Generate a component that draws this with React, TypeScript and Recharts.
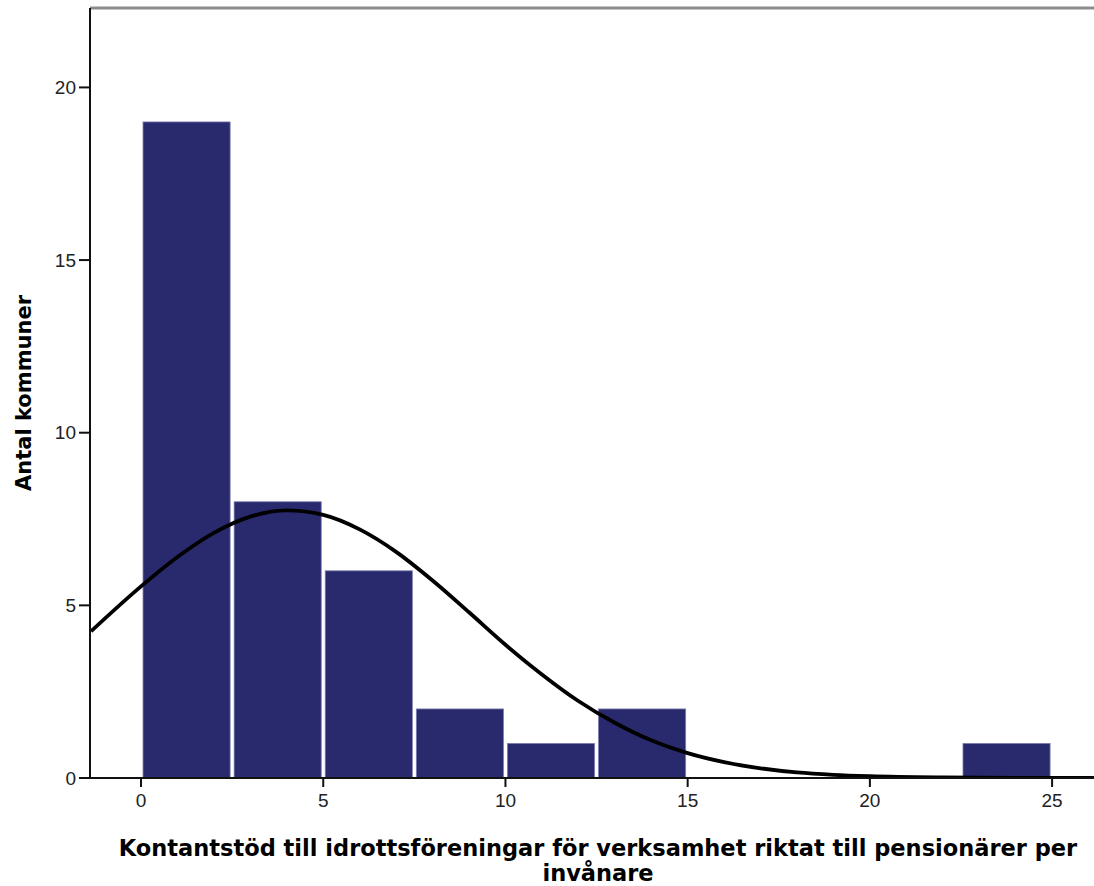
import React from "react";
import {
  ComposedChart,
  Line,
  XAxis,
  YAxis,
  ReferenceArea,
  ReferenceLine,
  Label
} from "recharts";

// histogram bins (lower edge, upper edge) and counts
const binStarts = [0, 2.5, 5, 7.5, 10, 12.5, 22.5];
const binEnds = [2.5, 5, 7.5, 10, 12.5, 15, 25];
const binCounts = [19, 8, 6, 2, 1, 2, 1];

// normal curve
const curveX = [-1.37, 0, 1, 2, 3, 4, 5, 6, 7, 8, 9, 10, 11, 12, 13, 14, 15, 16, 17, 18, 19, 20, 22, 24, 26.2];
const curveY = [4.25, 5.55, 6.4, 7.1, 7.57, 7.75, 7.62, 7.2, 6.55, 5.72, 4.8, 3.86, 3.0, 2.23, 1.6, 1.09, 0.72, 0.46, 0.28, 0.16, 0.09, 0.05, 0.015, 0.004, 0.0];

const xTicks = [0, 5, 10, 15, 20, 25];
const yTicks = [0, 5, 10, 15, 20];

const X_MIN = -1.4;
const X_MAX = 26.15;
const Y_MAX = 22.3;

const barColor = "#29296e";
const tickFont = "'Liberation Sans', Arial, sans-serif";
const titleFont = "'DejaVu Sans', Verdana, sans-serif";

const curveData = curveX.map((x, i) => ({ x, y: curveY[i] }));

const BarShape = (p: any) => (
  <rect
    x={p.x + 2}
    y={p.y}
    width={Math.max(0, p.width - 4)}
    height={p.height}
    fill={barColor}
    stroke="#7c7db0"
    strokeWidth={0.8}
  />
);

const XLabel = () => (
  <text
    x={598}
    y={856}
    textAnchor="middle"
    fontFamily={titleFont}
    fontWeight="bold"
    fontSize={22.5}
    fill="#000"
  >
    <tspan x={598} dy={0}>Kontantstöd till idrottsföreningar för verksamhet riktat till pensionärer per</tspan>
    <tspan x={598} dy={25}>invånare</tspan>
  </text>
);

const App: React.FC = () => {
  return (
    <div style={{ position: "absolute", left: 0, top: 0, width: 1094, height: 886, background: "#fff" }}>
      <ComposedChart
        width={1094}
        height={886}
        data={curveData}
        margin={{ top: 8, right: 0, bottom: 0, left: 0 }}
      >
        <XAxis
          dataKey="x"
          type="number"
          domain={[X_MIN, X_MAX]}
          allowDataOverflow
          ticks={xTicks}
          interval={0}
          height={108}
          tickSize={9}
          tickMargin={7}
          axisLine={{ stroke: "#111", strokeWidth: 2 }}
          tickLine={{ stroke: "#111", strokeWidth: 2 }}
          tick={{ fill: "#222", fontSize: 19, fontFamily: tickFont }}
        >
          <Label content={<XLabel />} />
        </XAxis>
        <YAxis
          type="number"
          domain={[0, Y_MAX]}
          allowDataOverflow
          ticks={yTicks}
          interval={0}
          width={90}
          tickSize={11}
          tickMargin={3}
          axisLine={{ stroke: "#111", strokeWidth: 2 }}
          tickLine={{ stroke: "#111", strokeWidth: 2 }}
          tick={{ fill: "#222", fontSize: 19, fontFamily: tickFont }}
        >
          <Label
            value="Antal kommuner"
            angle={-90}
            position="insideLeft"
            offset={24}
            style={{ fontFamily: titleFont, fontWeight: "bold", fontSize: 21, fill: "#000", textAnchor: "middle" }}
          />
        </YAxis>
        <ReferenceLine y={Y_MAX} stroke="#8c8c8c" strokeWidth={3} ifOverflow="extendDomain" />
        {binStarts.map((s, i) => (
          <ReferenceArea
            key={i}
            x1={s}
            x2={binEnds[i]}
            y1={0}
            y2={binCounts[i]}
            shape={BarShape}
            ifOverflow="visible"
          />
        ))}
        <Line
          dataKey="y"
          type="monotone"
          stroke="#000"
          strokeWidth={3.8}
          dot={false}
          activeDot={false}
          isAnimationActive={false}
        />
      </ComposedChart>
    </div>
  );
};

export default App;
